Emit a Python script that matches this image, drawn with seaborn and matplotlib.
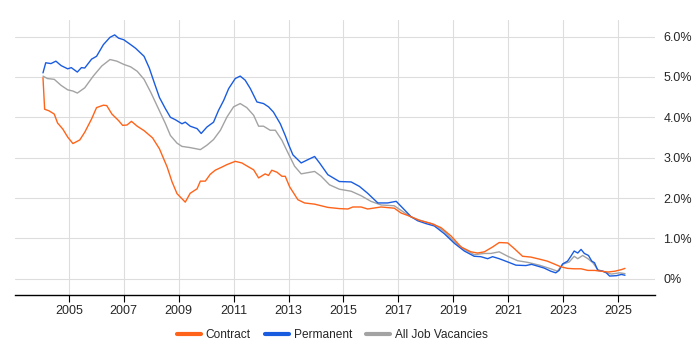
import pandas as pd
import matplotlib
matplotlib.use("Agg")
import matplotlib.pyplot as plt
from matplotlib.ticker import FuncFormatter
from matplotlib.lines import Line2D
import seaborn as sns

# datos (año decimal, % de vacantes)
contract_years = [2004.06, 2004.12, 2004.28, 2004.47, 2004.59, 2004.78, 2004.96, 2005.15, 2005.40, 2005.58,
                  2005.83, 2006.01, 2006.26, 2006.38, 2006.57, 2006.81, 2006.96, 2007.12, 2007.28, 2007.49,
                  2007.74, 2008.05, 2008.30, 2008.58, 2008.76, 2008.94, 2009.24, 2009.42, 2009.67, 2009.79,
                  2009.97, 2010.15, 2010.33, 2010.58, 2010.76, 2011.06, 2011.30, 2011.55, 2011.73, 2011.91,
                  2012.15, 2012.27, 2012.39, 2012.58, 2012.76, 2012.88, 2013.04, 2013.34, 2013.58, 2013.95,
                  2014.19, 2014.43, 2014.85, 2015.16, 2015.34, 2015.64, 2015.88, 2016.37, 2016.85, 2017.10,
                  2017.46, 2017.76, 2018.19, 2018.55, 2018.92, 2019.28, 2019.64, 2019.88, 2020.13, 2020.43,
                  2020.67, 2020.98, 2021.22, 2021.52, 2021.82, 2022.13, 2022.42, 2022.67, 2022.91, 2023.16,
                  2023.40, 2023.65, 2023.90, 2024.14, 2024.39, 2024.63, 2024.88, 2025.12, 2025.25]
contract_values = [4.98, 4.20, 4.16, 4.08, 3.86, 3.71, 3.51, 3.35, 3.44, 3.63,
                   3.96, 4.24, 4.30, 4.29, 4.08, 3.92, 3.80, 3.81, 3.90, 3.78,
                   3.67, 3.49, 3.22, 2.77, 2.40, 2.11, 1.90, 2.12, 2.23, 2.42,
                   2.42, 2.59, 2.69, 2.77, 2.83, 2.91, 2.87, 2.77, 2.70, 2.50,
                   2.60, 2.56, 2.69, 2.64, 2.54, 2.54, 2.28, 1.96, 1.88, 1.85,
                   1.81, 1.77, 1.74, 1.73, 1.78, 1.78, 1.73, 1.78, 1.75, 1.63,
                   1.54, 1.45, 1.37, 1.27, 1.06, 0.79, 0.67, 0.64, 0.67, 0.79,
                   0.90, 0.89, 0.75, 0.56, 0.54, 0.49, 0.44, 0.37, 0.30, 0.26,
                   0.25, 0.25, 0.21, 0.21, 0.19, 0.17, 0.19, 0.23, 0.26]

permanent_years = [2004.06, 2004.16, 2004.35, 2004.53, 2004.72, 2004.96, 2005.09, 2005.31, 2005.46, 2005.58,
                   2005.83, 2006.01, 2006.26, 2006.50, 2006.67, 2006.81, 2007.00, 2007.25, 2007.43, 2007.74,
                   2007.93, 2008.11, 2008.30, 2008.52, 2008.70, 2008.88, 2009.12, 2009.24, 2009.42, 2009.67,
                   2009.82, 2010.03, 2010.27, 2010.45, 2010.64, 2010.82, 2011.06, 2011.24, 2011.42, 2011.61,
                   2011.85, 2012.09, 2012.27, 2012.45, 2012.70, 2012.88, 2013.00, 2013.16, 2013.46, 2013.70,
                   2013.95, 2014.13, 2014.43, 2014.85, 2015.28, 2015.58, 2015.88, 2016.25, 2016.61, 2016.92,
                   2017.22, 2017.46, 2017.70, 2018.00, 2018.31, 2018.67, 2019.04, 2019.40, 2019.76, 2020.00,
                   2020.25, 2020.43, 2020.67, 2020.98, 2021.28, 2021.64, 2021.85, 2022.10, 2022.30, 2022.55,
                   2022.73, 2022.85, 2022.98, 2023.16, 2023.28, 2023.40, 2023.53, 2023.65, 2023.77, 2023.92,
                   2024.04, 2024.14, 2024.26, 2024.45, 2024.57, 2024.69, 2024.94, 2025.12, 2025.25]
permanent_values = [5.10, 5.35, 5.33, 5.39, 5.28, 5.20, 5.23, 5.12, 5.23, 5.22,
                    5.44, 5.51, 5.80, 5.98, 6.04, 5.96, 5.92, 5.80, 5.71, 5.51,
                    5.22, 4.86, 4.49, 4.21, 4.00, 3.94, 3.84, 3.88, 3.78, 3.72,
                    3.60, 3.76, 3.88, 4.17, 4.42, 4.71, 4.96, 5.02, 4.92, 4.71,
                    4.38, 4.34, 4.26, 4.13, 3.84, 3.55, 3.33, 3.07, 2.87, 2.95,
                    3.03, 2.87, 2.58, 2.41, 2.40, 2.29, 2.12, 1.88, 1.88, 1.92,
                    1.71, 1.54, 1.44, 1.37, 1.31, 1.12, 0.88, 0.69, 0.56, 0.55,
                    0.50, 0.55, 0.50, 0.42, 0.34, 0.33, 0.36, 0.31, 0.27, 0.19,
                    0.15, 0.21, 0.37, 0.44, 0.56, 0.69, 0.64, 0.73, 0.63, 0.58,
                    0.44, 0.40, 0.21, 0.19, 0.15, 0.07, 0.08, 0.11, 0.09]

all_years = [2004.06, 2004.22, 2004.47, 2004.72, 2004.96, 2005.15, 2005.31, 2005.58, 2005.89, 2006.20,
             2006.50, 2006.75, 2007.00, 2007.25, 2007.49, 2007.74, 2007.99, 2008.30, 2008.52, 2008.70,
             2008.94, 2009.12, 2009.42, 2009.79, 2010.03, 2010.27, 2010.52, 2010.76, 2011.00, 2011.24,
             2011.48, 2011.73, 2011.91, 2012.09, 2012.33, 2012.52, 2012.76, 2012.98, 2013.22, 2013.46,
             2013.95, 2014.19, 2014.49, 2014.85, 2015.28, 2015.64, 2016.00, 2016.37, 2016.85, 2017.22,
             2017.46, 2017.70, 2018.31, 2018.67, 2019.04, 2019.40, 2019.76, 2020.13, 2020.37, 2020.67,
             2020.98, 2021.34, 2021.70, 2022.13, 2022.55, 2022.79, 2022.98, 2023.22, 2023.40, 2023.53,
             2023.71, 2023.90, 2024.08, 2024.26, 2024.51, 2024.75, 2025.06, 2025.25]
all_values = [5.02, 4.96, 4.94, 4.79, 4.68, 4.65, 4.60, 4.73, 5.02, 5.27,
              5.43, 5.39, 5.31, 5.25, 5.14, 4.94, 4.61, 4.16, 3.84, 3.55,
              3.36, 3.28, 3.25, 3.20, 3.31, 3.45, 3.68, 4.01, 4.26, 4.34,
              4.24, 4.05, 3.78, 3.78, 3.68, 3.68, 3.43, 3.12, 2.79, 2.60,
              2.66, 2.54, 2.33, 2.22, 2.17, 2.06, 1.92, 1.83, 1.81, 1.64,
              1.53, 1.47, 1.35, 1.17, 0.92, 0.73, 0.60, 0.63, 0.63, 0.67,
              0.56, 0.45, 0.41, 0.34, 0.25, 0.19, 0.36, 0.42, 0.56, 0.50,
              0.58, 0.50, 0.40, 0.23, 0.17, 0.12, 0.15, 0.13]

series_names = ["Contract", "Permanent", "All Job Vacancies"]
colors = {"Contract": "#ff6319", "Permanent": "#1a5ce0", "All Job Vacancies": "#a3a3a3"}
x_ticks = list(range(2005, 2026, 2))
y_ticks = [0, 1, 2, 3, 4, 5, 6]

df = pd.concat([
    pd.DataFrame({"year": contract_years, "value": contract_values, "serie": "Contract"}),
    pd.DataFrame({"year": permanent_years, "value": permanent_values, "serie": "Permanent"}),
    pd.DataFrame({"year": all_years, "value": all_values, "serie": "All Job Vacancies"}),
])

sns.set_style("whitegrid")
plt.rcParams["font.family"] = ["Liberation Sans", "DejaVu Sans"]

fig = plt.figure(figsize=(7, 3.5), dpi=100)
ax = fig.add_axes([0.021, 0.157, 0.915, 0.786])

# dibujar en orden inverso para que Contract quede arriba
for name in ["All Job Vacancies", "Permanent", "Contract"]:
    sns.lineplot(data=df[df["serie"] == name], x="year", y="value", color=colors[name],
                 linewidth=1.0, ax=ax, legend=False, estimator=None, sort=False)

ax.set_xlim(2003.03, 2026.35)
ax.set_ylim(-0.4, 6.41)
ax.set_xticks(x_ticks)
ax.set_yticks(y_ticks)
ax.yaxis.set_major_formatter(FuncFormatter(lambda v, p: "0%" if v == 0 else f"{v:.1f}%"))
ax.yaxis.tick_right()
ax.set_xlabel("")
ax.set_ylabel("")

for s in ["top", "left", "right"]:
    ax.spines[s].set_visible(False)
ax.spines["bottom"].set_color("black")
ax.spines["bottom"].set_linewidth(1.0)
ax.grid(True, color="#dddddd", linewidth=0.8)
ax.tick_params(axis="x", bottom=True, length=5, color="black", labelsize=9, pad=2)
ax.tick_params(axis="y", right=False, length=0, labelsize=9, pad=6)

handles = [Line2D([0], [0], color=colors[n], linewidth=3) for n in series_names]
fig.legend(handles, series_names, loc="center", bbox_to_anchor=(0.475, 0.043), ncol=3,
           frameon=False, fontsize=8.6, handlelength=2.0, columnspacing=1.2, handletextpad=0.4)

fig.savefig("out.png", dpi=100)
